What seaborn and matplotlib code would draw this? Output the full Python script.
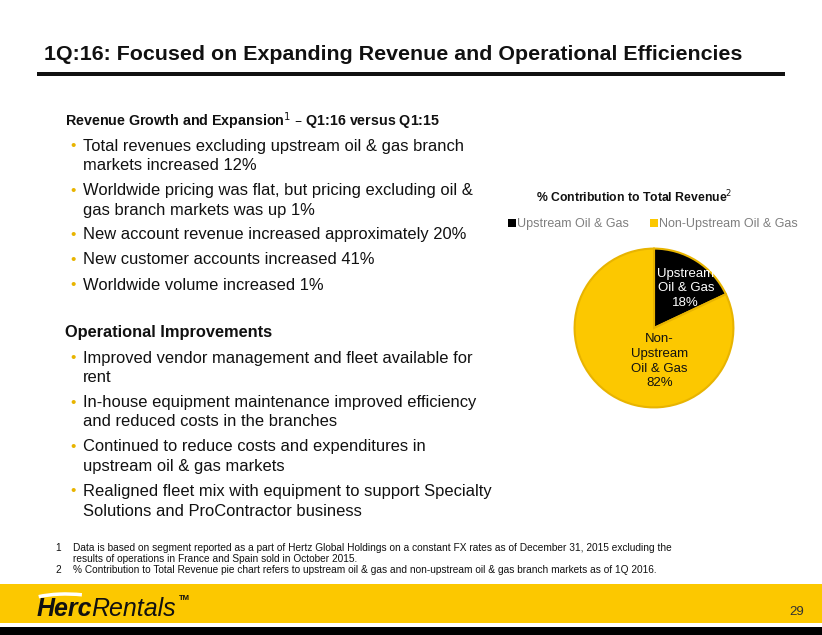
import matplotlib
matplotlib.use("Agg")
import matplotlib.pyplot as plt
import seaborn as sns
from matplotlib.patches import Rectangle, Arc

sns.set_theme(style="white")
plt.rcParams['font.family'] = ['Liberation Sans', 'DejaVu Sans']

# ---- data ----
segments = ["Upstream Oil & Gas", "Non-Upstream Oil & Gas"]
shares = [18, 82]
pie_labels = ["Upstream\nOil & Gas\n18%", "Non-\nUpstream\nOil & Gas\n82%"]
title = "1Q:16: Focused on Expanding Revenue and Operational Efficiencies"
growth_header = "Revenue Growth and Expansion$^{1}$ \u2013 Q1:16 versus Q1:15"
growth_bullets = [
    "Total revenues excluding upstream oil & gas branch\nmarkets increased 12%",
    "Worldwide pricing was flat, but pricing excluding oil &\ngas branch markets was up 1%",
    "New account revenue increased approximately 20%",
    "New customer accounts increased 41%",
    "Worldwide volume increased 1%",
]
ops_header = "Operational Improvements"
ops_bullets = [
    "Improved vendor management and fleet available for\nrent",
    "In-house equipment maintenance improved efficiency\nand reduced costs in the branches",
    "Continued to reduce costs and expenditures in\nupstream oil & gas markets",
    "Realigned fleet mix with equipment to support Specialty\nSolutions and ProContractor business",
]
footnotes = [
    ("1", "Data is based on segment reported as a part of Hertz Global Holdings on a constant FX rates as of December 31, 2015 excluding the\nresults of operations in France and Spain sold in October 2015."),
    ("2", "% Contribution to Total Revenue pie chart refers to upstream oil & gas and non-upstream oil & gas branch markets as of 1Q 2016."),
]
page_number = "29"

YELLOW = "#FCC800"
GOLD = "#E8B400"
W, H = 822, 635

fig = plt.figure(figsize=(W / 100, H / 100), dpi=100)
fig.patch.set_facecolor("white")

# background overlay in pixel coordinates (y downward)
bg = fig.add_axes([0, 0, 1, 1], zorder=0)
bg.set_xlim(0, W)
bg.set_ylim(H, 0)
bg.axis("off")

def fx(x):
    return x / W

def fy(y):
    return 1 - y / H

def txt(x, y, s, **kw):
    kw.setdefault("va", "center")
    kw.setdefault("ha", "left")
    return fig.text(fx(x), fy(y), s, **kw)

# title and rule
txt(44, 54, title, fontsize=15.4, fontweight="bold", color="#111111")
bg.add_patch(Rectangle((37, 72), 785 - 37, 3.5, color="#111111", lw=0))

# left column text
line_h = 19.5
def bullets(y0, items, gap):
    y = y0
    for item in items:
        lines = item.split("\n")
        txt(70, y, "\u2022", fontsize=11, color=GOLD)
        for i, ln in enumerate(lines):
            txt(83, y + i * line_h, ln, fontsize=11.9, color="#111111")
        y += len(lines) * line_h + gap

txt(65, 121, growth_header, fontsize=10.3, fontweight="bold", color="#111111")
bullets(146, growth_bullets, 5.5)
txt(65, 333, ops_header, fontsize=11.8, fontweight="bold", color="#111111")
bullets(358, ops_bullets, 5.5)

# pie chart
cx, cy, r = 654, 328, 81
ax = fig.add_axes([fx(cx - r), fy(cy + r), 2 * r / W, 2 * r / H])
colors = ["#000000", YELLOW]
wedges, _ = ax.pie(shares, colors=colors, startangle=90, counterclock=False,
                   wedgeprops=dict(edgecolor=GOLD, linewidth=1.5))
ax.set_xlim(-1.02, 1.02)
ax.set_ylim(-1.02, 1.02)
ax.axis("off")
ax.text(0.40, 0.50, pie_labels[0], ha="center", va="center", color="white",
        fontsize=9.5, linespacing=1.3)
ax.text(0.07, -0.42, pie_labels[1], ha="center", va="center", color="#111111",
        fontsize=9.5, linespacing=1.3)

txt(634, 197, "% Contribution to Total Revenue$^{2}$", fontsize=8.8, fontweight="bold",
    ha="center", color="#111111")
# legend
leg = fig.legend(wedges, segments, loc="center", bbox_to_anchor=(fx(653), fy(224)),
                 ncol=2, frameon=False, fontsize=9, handlelength=0.6, handleheight=0.6,
                 handletextpad=0.1, columnspacing=1.7, labelcolor="#7f7f7f")
for h in leg.legend_handles:
    h.set_edgecolor("none")

# footnotes
fy0 = 548
for num, note in footnotes:
    lines = note.split("\n")
    txt(55, fy0, num, fontsize=7.3, color="#111111")
    for i, ln in enumerate(lines):
        txt(73, fy0 + i * 10.8, ln, fontsize=7.3, color="#111111")
    fy0 += len(lines) * 10.8 + 0.5

# footer
bg.add_patch(Rectangle((0, 584), W, 39, color=YELLOW, lw=0))
bg.add_patch(Rectangle((0, 626.5), W, 9, color="#000000", lw=0))
bg.add_patch(Arc((66, 604), 80, 20, theta1=195, theta2=330, color="white", lw=2.5))
txt(37, 609, "Herc", fontsize=18, fontweight="bold", fontstyle="italic", color="#111111")
txt(91, 609, "Rentals", fontsize=18, fontstyle="italic", color="#111111")
txt(179, 599, "TM", fontsize=5.5, fontweight="bold", color="#111111")
txt(804, 612, page_number, fontsize=9.5, ha="right", color="#333333")

fig.savefig("out.png", dpi=100, facecolor="white")
